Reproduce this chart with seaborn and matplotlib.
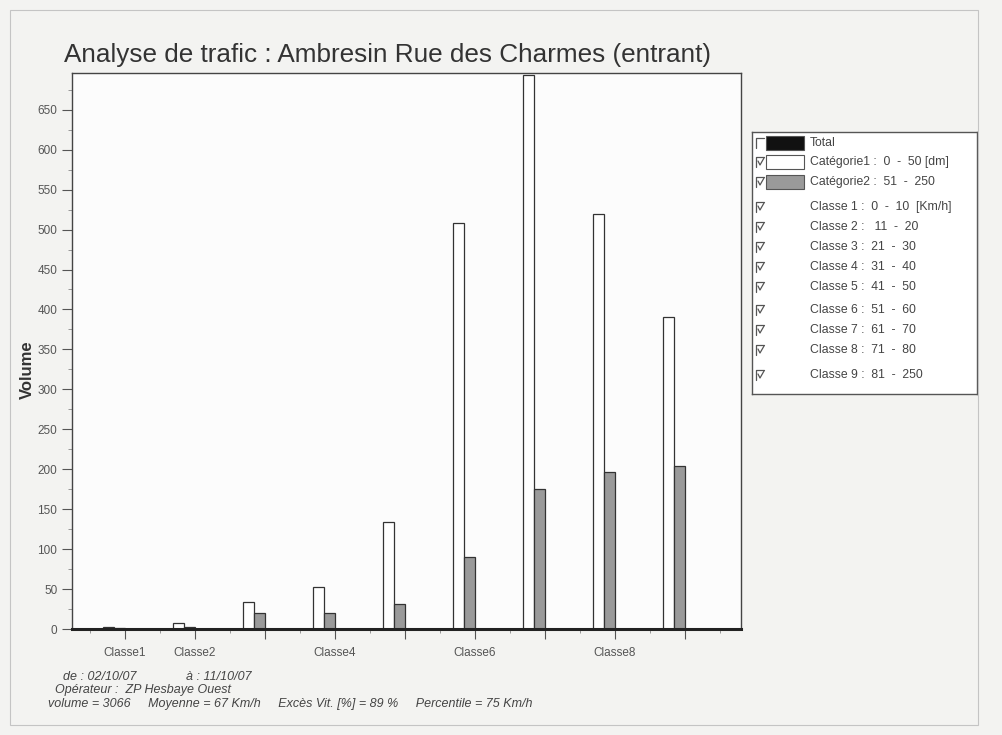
import numpy as np
import pandas as pd
import seaborn as sns
import matplotlib
matplotlib.use("Agg")
import matplotlib.pyplot as plt
from matplotlib.patches import Rectangle

# data
classes = ["Classe1", "Classe2", "Classe3", "Classe4", "Classe5",
           "Classe6", "Classe7", "Classe8", "Classe9"]
cat1 = [3, 8, 34, 52, 134, 508, 694, 520, 390]
cat2 = [1, 3, 20, 20, 31, 90, 175, 196, 204]
tick_labels = ["Classe1", "Classe2", "", "Classe4", "", "Classe6", "", "Classe8", ""]

legend_labels = ["Total",
                 "Catégorie1 :  0  -  50 [dm]",
                 "Catégorie2 :  51  -  250",
                 "Classe 1 :  0  -  10  [Km/h]",
                 "Classe 2 :   11  -  20",
                 "Classe 3 :  21  -  30",
                 "Classe 4 :  31  -  40",
                 "Classe 5 :  41  -  50",
                 "Classe 6 :  51  -  60",
                 "Classe 7 :  61  -  70",
                 "Classe 8 :  71  -  80",
                 "Classe 9 :  81  -  250"]
legend_checked = [False] + [True] * 11
legend_colors = ["#111111", "white", "#9a9a9a"]

df = pd.DataFrame({
    "classe": classes * 2,
    "categorie": ["Catégorie1"] * 9 + ["Catégorie2"] * 9,
    "volume": cat1 + cat2,
})

sns.set_style("white")
plt.rcParams["font.family"] = ["Liberation Sans", "DejaVu Sans"]

W, H = 1003, 735
fig = plt.figure(figsize=(W / 100, H / 100), dpi=100)
fig.patch.set_facecolor("#f3f3f1")

# page border of the scan
fig.add_artist(Rectangle((10 / W, 1 - 725 / H), 968 / W, 715 / H,
                         transform=fig.transFigure, fill=False,
                         edgecolor="#c4c4c4", lw=0.8))

ax = fig.add_axes([72 / W, 1 - 629 / H, 669 / W, 556 / H])
ax.set_facecolor("#fcfcfc")
sns.barplot(data=df, x="classe", y="volume", hue="categorie",
            hue_order=["Catégorie1", "Catégorie2"],
            palette={"Catégorie1": "white", "Catégorie2": "#9a9a9a"},
            width=0.314, gap=0, edgecolor="#333333", linewidth=0.9,
            legend=False, ax=ax)

off = 0.157
ax.set_xlim(-0.6, 8.96)
ax.set_ylim(0, 696)
ax.set_xticks(np.arange(9) + off)
ax.set_xticklabels(tick_labels)
ax.set_xticks(np.arange(-1, 9) + off + 0.5, minor=True)
ax.set_yticks(np.arange(0, 651, 50))
ax.set_yticks(np.arange(25, 700, 50), minor=True)
ax.tick_params(axis="both", which="major", direction="out", length=7,
               width=0.8, color="#555555", labelsize=8.5, labelcolor="#555555")
ax.tick_params(axis="both", which="minor", direction="out", length=3,
               width=0.6, color="#888888")
ax.tick_params(axis="x", which="both", bottom=True)
ax.tick_params(axis="y", which="both", left=True)
ax.tick_params(axis="x", pad=6)
for s in ax.spines.values():
    s.set_color("#444444")
    s.set_linewidth(1.0)
ax.spines["bottom"].set_linewidth(2.2)
ax.spines["bottom"].set_color("#222222")
ax.set_xlabel("")
ax.set_ylabel("")

fig.text(27 / W, 1 - 370 / H, "Volume", rotation=90, ha="center",
         va="center", fontsize=12, fontweight="bold", color="#333333")
fig.text(64 / W, 1 - 55 / H,
         "Analyse de trafic : Ambresin Rue des Charmes (entrant)",
         ha="left", va="center", fontsize=18.8, color="#333333")

# footer info
foot = dict(style="italic", fontsize=9, color="#444444", va="center")
fig.text(63 / W, 1 - 677 / H, "de : 02/10/07", **foot)
fig.text(186 / W, 1 - 677 / H, "à : 11/10/07", **foot)
fig.text(55 / W, 1 - 690 / H, "Opérateur :  ZP Hesbaye Ouest", **foot)
fig.text(48 / W, 1 - 704 / H,
         "volume = 3066     Moyenne = 67 Km/h     Excès Vit. [%] = 89 %     Percentile = 75 Km/h",
         **foot)

# legend box drawn like the original software panel
lx0, ly0, lw, lh = 752, 132, 225, 262
lax = fig.add_axes([lx0 / W, 1 - (ly0 + lh) / H, lw / W, lh / H])
lax.set_xlim(0, lw)
lax.set_ylim(lh, 0)
lax.set_xticks([])
lax.set_yticks([])
lax.set_facecolor("white")
for s in lax.spines.values():
    s.set_color("#555555")
    s.set_linewidth(1.0)
row_y = [11, 30, 50, 75, 95, 115, 135, 155, 178, 198, 218, 243]
for i, (lab, chk) in enumerate(zip(legend_labels, legend_checked)):
    y = row_y[i]
    lax.plot([4, 4, 12], [y + 5, y - 5, y - 5], color="#555555", lw=0.9)
    if chk:
        lax.plot([6, 8, 12], [y - 1, y + 3, y - 4], color="#555555", lw=0.9)
    if i < 3:
        lax.add_patch(Rectangle((14, y - 7), 38, 14,
                                facecolor=legend_colors[i],
                                edgecolor="#555555", lw=0.8))
    lax.text(58, y, lab, fontsize=8.8, color="#444444", va="center", ha="left")

fig.savefig("out.png", dpi=100, facecolor=fig.get_facecolor())
